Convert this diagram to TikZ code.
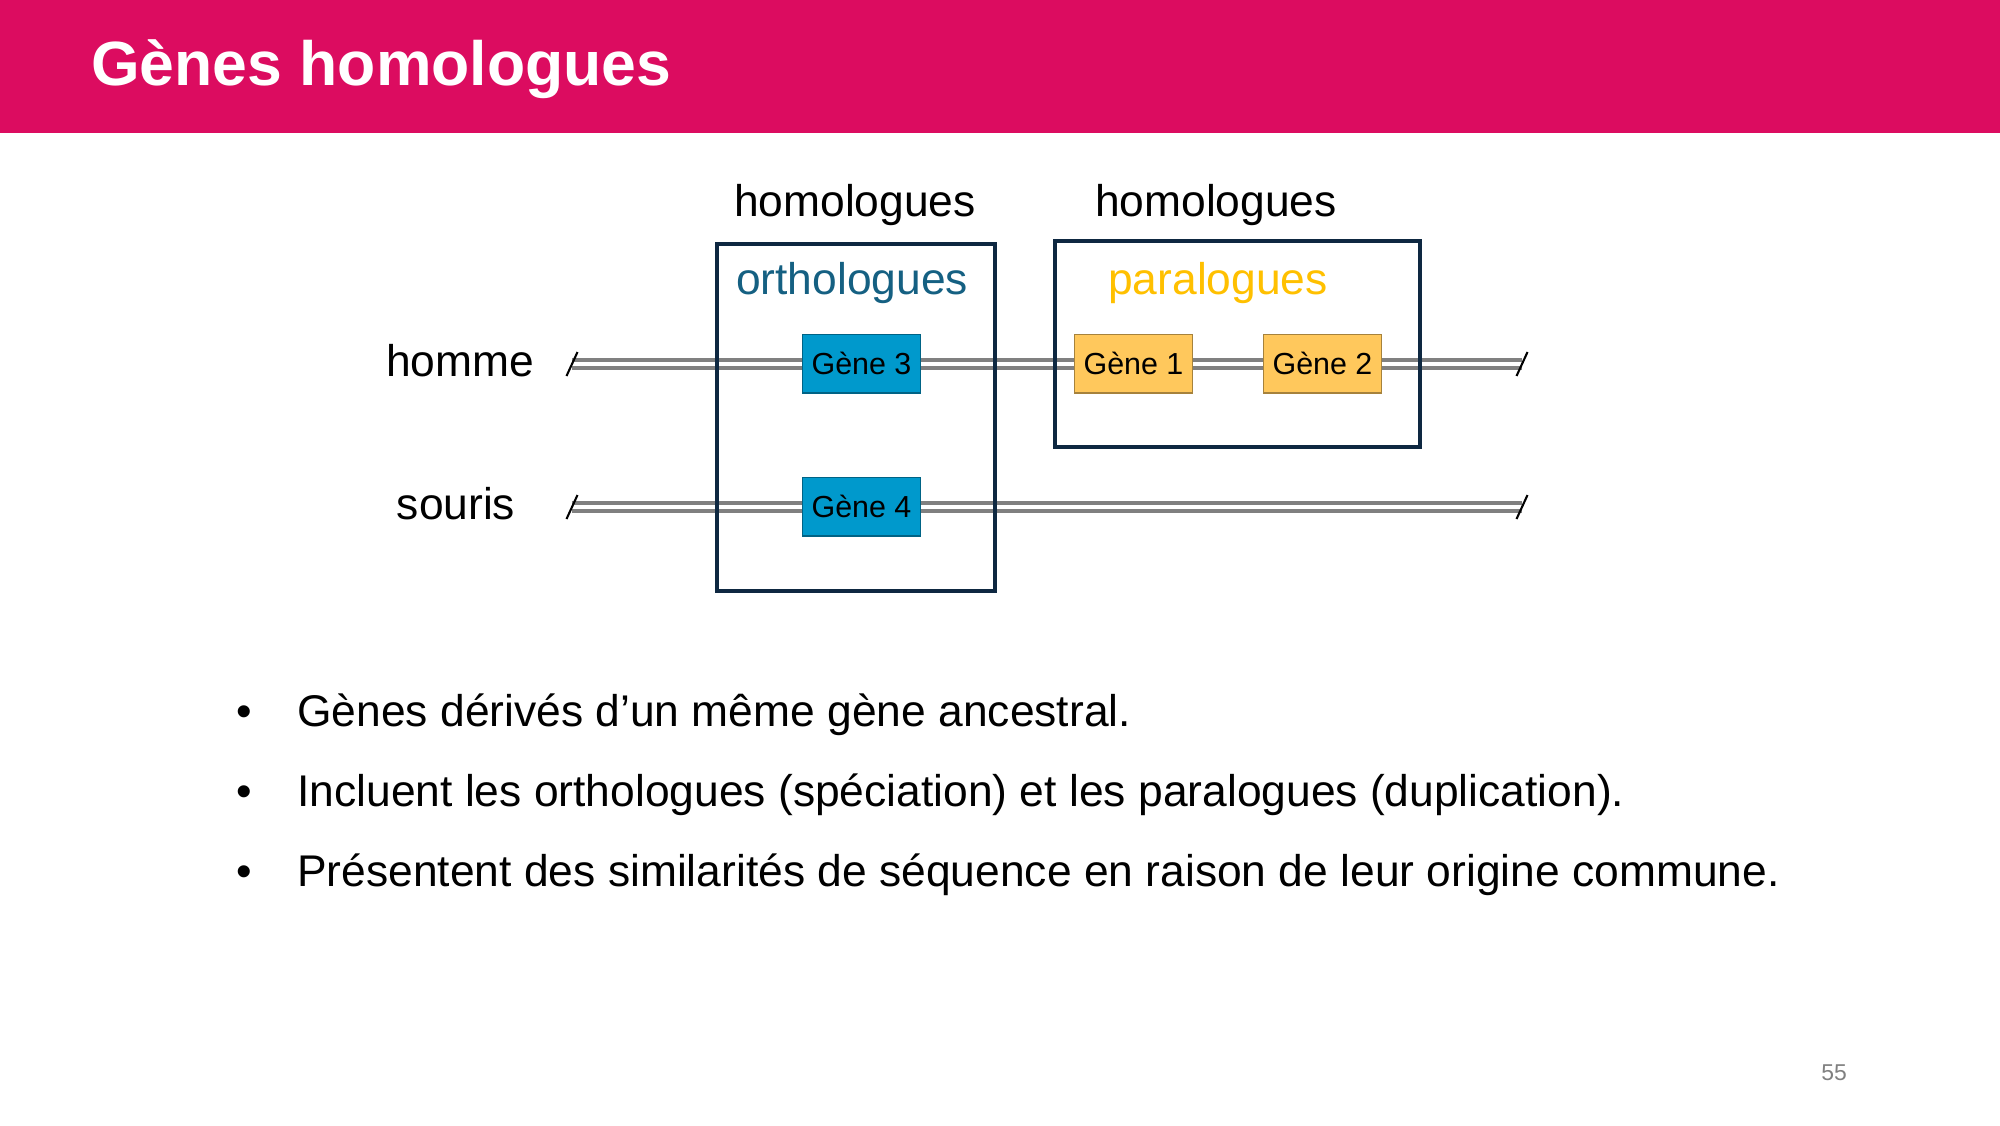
\documentclass[tikz,border=0pt]{standalone}
\usepackage{fontspec}
\setmainfont{Liberation Sans}
\usetikzlibrary{positioning}

\definecolor{bannerpink}{RGB}{220,12,96}
\definecolor{geneblue}{RGB}{0,153,204}
\definecolor{geneorange}{RGB}{255,200,92}
\definecolor{framenavy}{RGB}{14,40,65}
\definecolor{orthoblue}{RGB}{21,96,130}
\definecolor{paragold}{RGB}{255,192,0}

\tikzset{
  gene/.style={draw=#1!65!black, fill=#1, line width=0.5pt, minimum width=57pt,
    minimum height=28.3pt, inner sep=0pt, font=\fontsize{14.6}{17}\selectfont},
  chromo/.style={draw=gray, line width=1.9pt, double=white, double distance=2.3pt},
  groupbox/.style={draw=framenavy, line width=1.7pt},
  cutmark/.style={line width=1pt},
  label/.style={font=\fontsize{21.3}{26}\selectfont, anchor=mid}
}

\begin{document}
\begin{tikzpicture}[x=0.48pt, y=-0.48pt]
  \useasboundingbox (0,0) rectangle (2000,1125);

  % Title
  \fill[bannerpink] (0,0) rectangle (2000,133);
  \node[anchor=mid west, text=white, font=\fontsize{30}{36}\selectfont\bfseries] (title) at (84,80) {Gènes homologues};

  % Chromosomes
  \coordinate (hommeL) at (572,364);
  \coordinate (hommeR) at (1522,364);
  \coordinate (sourisL) at (572,507);
  \coordinate (sourisR) at (1522,507);
  \draw[chromo] (hommeL) -- (hommeR);
  \draw[chromo] (sourisL) -- (sourisR);
  \foreach \c in {hommeL,hommeR,sourisL,sourisR}
    \draw[cutmark] ([shift={(-5.5,12)}]\c) -- ([shift={(5.5,-12)}]\c);

  \node[label] (homme) at (460,371) {homme};
  \node[label] (souris) at (456,514) {souris};

  % Groups
  \draw[groupbox] (717,244) rectangle (995,591);
  \draw[groupbox] (1055,241) rectangle (1420,447);
  \node[label] (homA) at (855,211) {homologues};
  \node[label] (homB) at (1216,211) {homologues};
  \node[label, text=orthoblue] (ortho) at (852,289) {orthologues};
  \node[label, text=paragold] (para) at (1218,289) {paralogues};

  % Genes
  \node[gene=geneblue] (gene3) at (861.5,363.5) {Gène 3};
  \node[gene=geneblue] (gene4) at (861.5,506.5) {Gène 4};
  \node[gene=geneorange] (gene1) at (1133.5,363.5) {Gène 1};
  \node[gene=geneorange] (gene2) at (1322.5,363.5) {Gène 2};

  % Bullets
  \foreach \txt [count=\i] in {{Gènes dérivés d’un même gène ancestral.},
      {Incluent les orthologues (spéciation) et les paralogues (duplication).},
      {Présentent des similarités de séquence en raison de leur origine commune.}} {
    \node[label] (dot\i) at (244,721+80*\i-80) {•};
    \node[label, anchor=mid west] (item\i) at (290,721+80*\i-80) {\txt};
  }

  \node[text=gray, font=\fontsize{11}{13}\selectfont] (pagenum) at (1834,1073) {55};
\end{tikzpicture}
\end{document}
